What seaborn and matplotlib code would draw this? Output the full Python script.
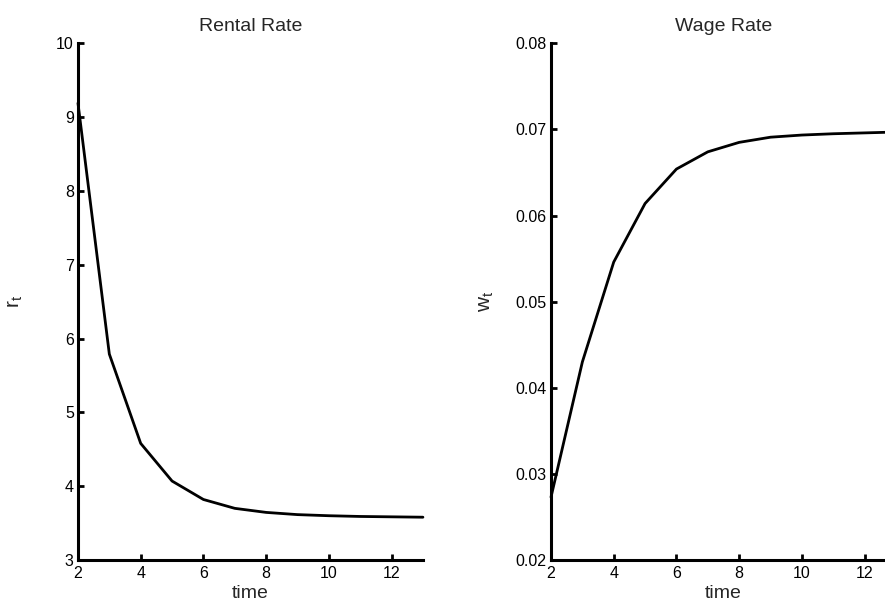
import matplotlib
matplotlib.use("Agg")
import matplotlib.pyplot as plt
import seaborn as sns
import pandas as pd

# Transition paths of factor prices
time = [2, 3, 4, 5, 6, 7, 8, 9, 10, 11, 12, 13]
rental_rate = [9.19, 5.79, 4.58, 4.07, 3.82, 3.70, 3.645, 3.615, 3.60, 3.59, 3.585, 3.58]
wage_rate = [0.0273, 0.0430, 0.0546, 0.0614, 0.0654, 0.0674, 0.0685, 0.0691,
             0.06935, 0.0695, 0.0696, 0.0697]

x_ticks = [2, 4, 6, 8, 10, 12]
r_ticks = [3, 4, 5, 6, 7, 8, 9, 10]
w_ticks = [0.02, 0.03, 0.04, 0.05, 0.06, 0.07, 0.08]

sns.set_style("ticks")
plt.rcParams["font.family"] = ["Liberation Sans", "DejaVu Sans"]
plt.rcParams["mathtext.fontset"] = "custom"
plt.rcParams["mathtext.rm"] = "Liberation Sans"
plt.rcParams["mathtext.it"] = "Liberation Sans"

df = pd.DataFrame({"time": time, "r": rental_rate, "w": wage_rate})

fig = plt.figure(figsize=(8.85, 6.01), dpi=100)
ax1 = fig.add_axes([0.0881, 0.0682, 0.3898, 0.8597])
ax2 = fig.add_axes([0.6226, 0.0682, 0.3898, 0.8597])

panels = [
    (ax1, "r", "Rental Rate", r"$\mathregular{r_t}$", (3, 10), r_ticks, lambda v: f"{v:g}", 22),
    (ax2, "w", "Wage Rate", r"$\mathregular{w_t}$", (0.02, 0.08), w_ticks, lambda v: f"{v:.2f}", 14),
]

for ax, col, title, ylab, ylim, yt, fmt, ypad in panels:
    sns.lineplot(data=df, x="time", y=col, ax=ax, color="black", linewidth=2.0, clip_on=False)
    ax.set_xlim(2, 13)
    ax.set_ylim(*ylim)
    ax.set_xticks(x_ticks)
    ax.set_xticklabels([str(t) for t in x_ticks])
    ax.set_yticks(yt)
    ax.set_yticklabels([fmt(v) for v in yt])
    ax.set_title(title, fontsize=14, pad=9)
    ax.set_xlabel("time", fontsize=14, labelpad=3)
    ax.set_ylabel(ylab, fontsize=15, labelpad=ypad)
    for side in ("top", "right"):
        ax.spines[side].set_visible(False)
    for side in ("left", "bottom"):
        ax.spines[side].set_linewidth(2.2)
        ax.spines[side].set_color("black")
    ax.tick_params(axis="y", direction="in", length=4, width=2, labelsize=11.5, pad=3, colors="black")
    ax.tick_params(axis="x", direction="in", length=4, width=2, labelsize=11.5, pad=4, colors="black")

fig.savefig("out.png", dpi=100)
